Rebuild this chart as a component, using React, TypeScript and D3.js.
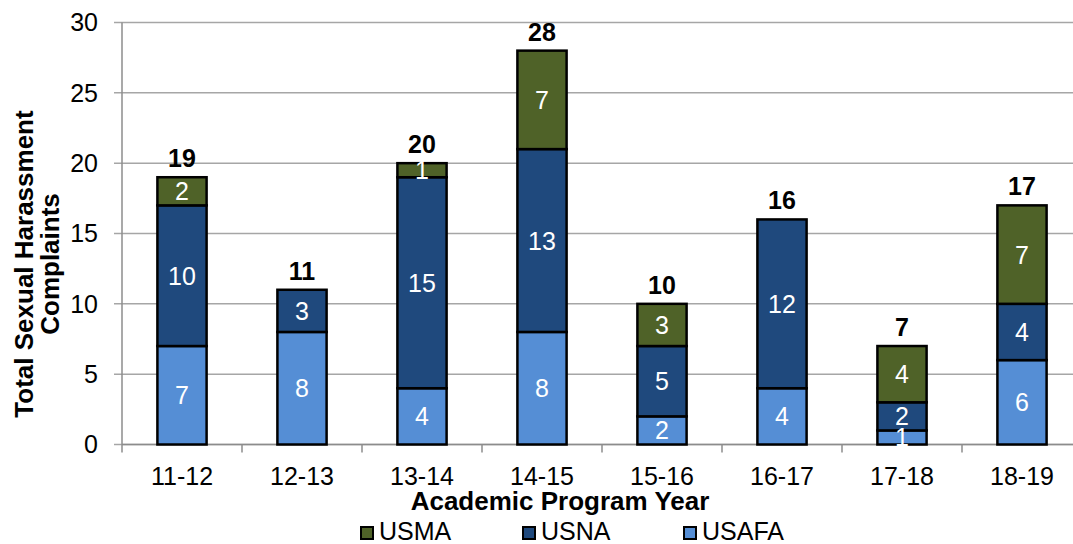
import React from "react";
import * as d3 from "d3";

const years = ["11-12", "12-13", "13-14", "14-15", "15-16", "16-17", "17-18", "18-19"];
const usafa = [7, 8, 4, 8, 2, 4, 1, 6];
const usna = [10, 3, 15, 13, 5, 12, 2, 4];
const usma = [2, 0, 1, 7, 3, 0, 4, 7];
const yTicks = [0, 5, 10, 15, 20, 25, 30];
const seriesNames = ["USAFA", "USNA", "USMA"];
const seriesColors = ["#558ED5", "#1F497D", "#4F6228"];
const legendOrder = ["USMA", "USNA", "USAFA"];

const W = 1073;
const H = 544;
const FONT = "'Liberation Sans', Arial, sans-serif";

export default function App() {
  const left = 122;
  const right = 1082;
  const top = 22.5;
  const bottom = 444.5;

  const x = d3.scaleBand<string>().domain(years).range([left, right]).paddingInner(0.59).paddingOuter(0.295);
  const y = d3.scaleLinear().domain([0, 30]).range([bottom, top]);

  const rows = years.map((yr, i) => ({ year: yr, USAFA: usafa[i], USNA: usna[i], USMA: usma[i] }));
  const stack = d3.stack<any>().keys(seriesNames)(rows);
  const totals = years.map((_, i) => usafa[i] + usna[i] + usma[i]);

  const band = d3.scaleBand<string>().domain(years).range([left, right]);
  const tickXs = years.map((yr) => band(yr) as number).concat([right]);

  const legendX = [361, 523, 684];

  return (
    <svg width={W} height={H} style={{ position: "fixed", left: 0, top: 0, background: "#fff" }} fontFamily={FONT}>
      <rect x={0} y={0} width={W} height={H} fill="#fff" />
      {yTicks.map((t) => (
        <line key={"g" + t} x1={114} x2={right} y1={y(t)} y2={y(t)} stroke="#A6A6A6" strokeWidth={1.5} />
      ))}
      <line x1={left} x2={left} y1={top} y2={bottom} stroke="#8C8C8C" strokeWidth={1.5} />
      <line x1={left} x2={right} y1={bottom} y2={bottom} stroke="#8C8C8C" strokeWidth={1.5} />
      {tickXs.map((tx, i) => (
        <line key={"xt" + i} x1={tx} x2={tx} y1={bottom} y2={bottom + 8} stroke="#8C8C8C" strokeWidth={1.5} />
      ))}
      {yTicks.map((t) => (
        <text key={"yl" + t} x={98} y={y(t)} dy="0.35em" textAnchor="end" fontSize={25} fill="#000">
          {t}
        </text>
      ))}
      {years.map((yr) => (
        <text key={"xl" + yr} x={(band(yr) as number) + band.bandwidth() / 2} y={485} textAnchor="middle" fontSize={25} fill="#000">
          {yr}
        </text>
      ))}
      {stack.map((s, si) =>
        s.map((d, i) => {
          const v = d[1] - d[0];
          if (v <= 0) return null;
          return (
            <rect
              key={"b" + si + "-" + i}
              x={x(years[i]) as number}
              y={y(d[1])}
              width={x.bandwidth()}
              height={y(d[0]) - y(d[1])}
              fill={seriesColors[si]}
              stroke="#000"
              strokeWidth={2.5}
            />
          );
        })
      )}
      {stack.map((s, si) =>
        s.map((d, i) => {
          const v = d[1] - d[0];
          if (v <= 0) return null;
          return (
            <text
              key={"v" + si + "-" + i}
              x={(x(years[i]) as number) + x.bandwidth() / 2}
              y={(y(d[0]) + y(d[1])) / 2}
              dy="0.36em"
              textAnchor="middle"
              fontSize={25}
              fill="#fff"
            >
              {v}
            </text>
          );
        })
      )}
      {totals.map((t, i) => (
        <text
          key={"t" + i}
          x={(x(years[i]) as number) + x.bandwidth() / 2}
          y={y(t) - 10}
          textAnchor="middle"
          fontSize={25}
          fontWeight="bold"
          fill="#000"
        >
          {t}
        </text>
      ))}
      <text x={560} y={510} textAnchor="middle" fontSize={26} fontWeight="bold" fill="#000">
        Academic Program Year
      </text>
      <g transform="translate(0,264) rotate(-90)">
        <text x={0} y={33} textAnchor="middle" fontSize={26} fontWeight="bold" fill="#000">
          Total Sexual Harassment
        </text>
        <text x={0} y={59} textAnchor="middle" fontSize={26} fontWeight="bold" fill="#000">
          Complaints
        </text>
      </g>
      {legendOrder.map((name, i) => {
        const ci = seriesNames.indexOf(name);
        return (
          <g key={"lg" + name}>
            <rect x={legendX[i]} y={527} width={12} height={12} fill={seriesColors[ci]} stroke="#000" strokeWidth={2} />
            <text x={legendX[i] + 18} y={540} fontSize={25} fill="#000">
              {name}
            </text>
          </g>
        );
      })}
    </svg>
  );
}
